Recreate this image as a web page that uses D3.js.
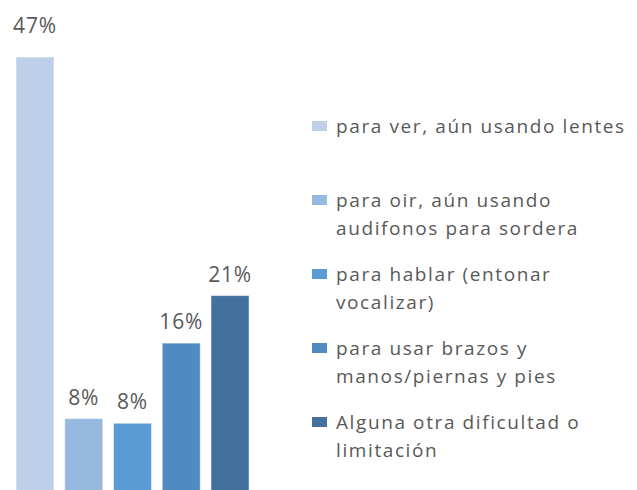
<!DOCTYPE html>
<html>
<head>
<meta charset="utf-8">
<script src="https://cdn.jsdelivr.net/npm/d3@7"></script>
<style>
  body { margin: 0; background: #fff; }
  svg { display: block; }
  text { font-family: "Open Sans", "DejaVu Sans", sans-serif; fill: #595959; }
</style>
</head>
<body>
<svg id="chart" width="637" height="490"></svg>
<script>
// datos
const categorias = [
  "para ver, aún usando lentes",
  "para oir, aún usando|audifonos para sordera",
  "para hablar (entonar|vocalizar)",
  "para usar brazos y|manos/piernas y pies",
  "Alguna otra dificultad o|limitación"
]
const valores = [47.0, 8.2, 7.7, 16.3, 21.4]
const etiquetas = ["47%", "8%", "8%", "16%", "21%"]
const colores = ["#bdd0e9", "#97b9e0", "#5b9bd5", "#4f8bc0", "#41719c"]

const width = 637, height = 490
const svg = d3.select('#chart')

const x = d3.scaleBand()
    .domain(d3.range(valores.length))
    .range([10.6, 254.4])
    .paddingInner(0.22)
    .paddingOuter(0.11)

const y = d3.scaleLinear()
    .domain([0, 47])
    .range([495, 57])

svg.append('g')
    .selectAll('rect')
    .data(valores)
    .join('rect')
    .attr('x', (d, i) => x(i))
    .attr('width', x.bandwidth())
    .attr('y', d => y(d))
    .attr('height', d => y(0) - y(d))
    .attr('fill', (d, i) => colores[i])
    .attr('stroke', '#ffffff')
    .attr('stroke-opacity', 0.5)
    .attr('stroke-width', 1)

const maxV = d3.max(valores)
svg.append('g')
    .selectAll('text')
    .data(valores)
    .join('text')
    .attr('x', (d, i) => x(i) + x.bandwidth() / 2)
    .attr('y', d => d === maxV ? y(d) - 24 : y(d) - 14)
    .attr('text-anchor', 'middle')
    .style('font-size', '21px')
    .style('letter-spacing', '0.8px')
    .text((d, i) => etiquetas[i])

// leyenda
const leyenda = svg.append('g')
    .attr('transform', 'translate(312, 0)')

const items = leyenda.selectAll('g')
    .data(categorias)
    .join('g')
    .attr('transform', (d, i) => `translate(0, ${126 + i * 74})`)

items.append('rect')
    .attr('x', 0)
    .attr('y', -5)
    .attr('width', 15)
    .attr('height', 10)
    .attr('fill', (d, i) => colores[i])

items.append('text')
    .attr('x', 24)
    .attr('y', 7)
    .style('font-size', '19px')
    .style('letter-spacing', '1.6px')
    .selectAll('tspan')
    .data(d => d.split('|'))
    .join('tspan')
    .attr('x', 24)
    .attr('dy', (d, i) => i === 0 ? 0 : 28)
    .text(d => d)
</script>
</body>
</html>
